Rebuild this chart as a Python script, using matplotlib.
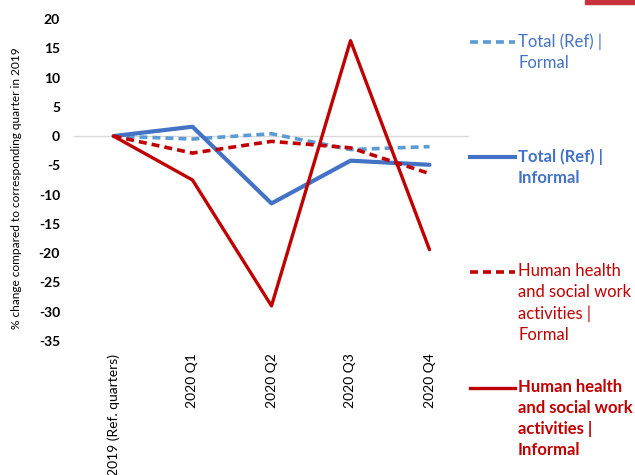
import matplotlib
matplotlib.use("Agg")
import matplotlib.pyplot as plt
from matplotlib.lines import Line2D
from matplotlib.patches import Rectangle

plt.rcParams['font.family'] = ['Lato', 'DejaVu Sans']

quarters = ["2019 (Ref. quarters)", "2020 Q1", "2020 Q2", "2020 Q3", "2020 Q4"]
total_formal = [0, -0.5, 0.4, -2.3, -1.8]
total_informal = [0, 1.6, -11.5, -4.2, -4.9]
health_formal = [0, -2.9, -0.9, -2.0, -6.4]
health_informal = [0, -7.5, -29.0, 16.3, -19.4]

labels = ["Total (Ref) |\nFormal", "Total (Ref) |\nInformal",
          "Human health\nand social work\nactivities |\nFormal",
          "Human health\nand social work\nactivities |\nInformal"]
yticks = [20, 15, 10, 5, 0, -5, -10, -15, -20, -25, -30, -35]

light_blue = "#5B9BD5"
blue = "#4472C4"
red = "#C00000"

fig = plt.figure(figsize=(6.35, 4.75), dpi=100)
ax = fig.add_axes([74 / 635, 1 - 341 / 475, 395 / 635, 322 / 475])

x = range(len(quarters))
styles = [
    (total_formal, light_blue, (0, (2.2, 1.4)), 2.6),
    (total_informal, blue, "-", 3.0),
    (health_formal, red, (0, (2.2, 1.4)), 2.6),
    (health_informal, red, "-", 2.4),
]
ax.axhline(0, color="#D9D9D9", lw=1, zorder=0)
for vals, c, ls, lw in styles:
    ax.plot(x, vals, color=c, ls=ls, lw=lw, solid_capstyle="round",
            dash_capstyle="butt")

ax.set_xlim(-0.5, 4.5)
ax.set_ylim(-35, 20)
ax.set_yticks(yticks)
ax.set_yticklabels([str(t) for t in yticks], fontweight="bold", fontsize=10)
ax.set_xticks(list(x))
ax.set_xticklabels(quarters, rotation=90, fontsize=10, va="top")
ax.tick_params(axis="y", length=0, pad=10)
ax.tick_params(axis="x", length=0, pad=9)
for s in ax.spines.values():
    s.set_visible(False)

fig.text(17 / 635, 1 - 188 / 475,
         "% change compared to corresponding quarter in 2019",
         rotation=90, ha="center", va="center", fontsize=8.6)

# legend drawn by hand on the right
leg_y = [42, 157, 272, 388]
leg_c = [blue, blue, red, red]
leg_w = ["normal", "bold", "normal", "bold"]
for i, (vals, c, ls, lw) in enumerate(styles):
    yy = 1 - leg_y[i] / 475
    fig.add_artist(Line2D([470 / 635, 515 / 635], [yy, yy], color=c, ls=ls,
                          lw=lw, transform=fig.transFigure))
    fig.text(518 / 635, 1 - (leg_y[i] - 9) / 475, labels[i], color=leg_c[i],
             fontweight=leg_w[i], fontsize=12, va="top", ha="left",
             linespacing=1.38)

fig.add_artist(Rectangle((585 / 635, 1 - 4 / 475), 50 / 635, 4 / 475,
                         color="#C8323C", transform=fig.transFigure))

fig.savefig("out.png", dpi=100)
